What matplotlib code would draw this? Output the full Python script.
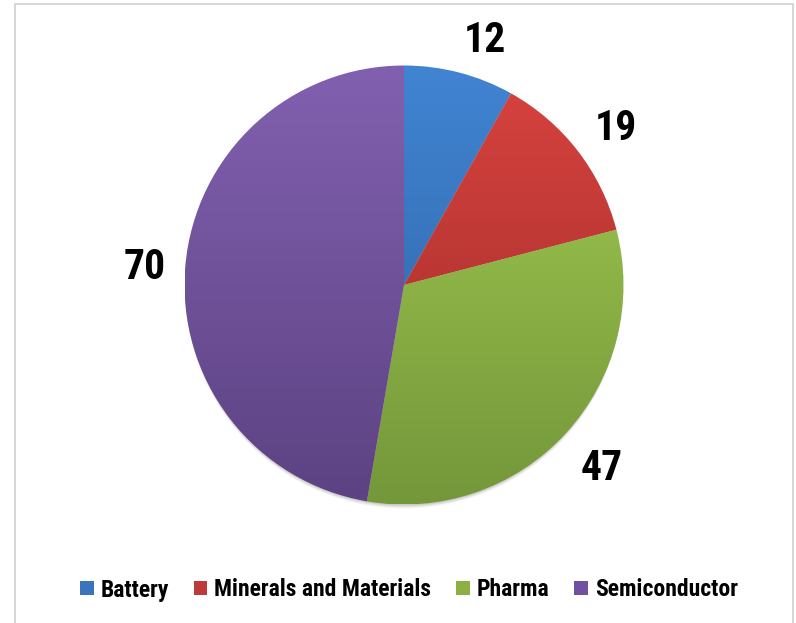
import numpy as np
import matplotlib
matplotlib.use("Agg")
import matplotlib.pyplot as plt
from matplotlib.patches import Rectangle, Circle, Patch
from matplotlib.colors import to_rgb
import matplotlib.transforms as mtransforms

categories = ["Battery", "Minerals and Materials", "Pharma", "Semiconductor"]
values = [12, 19, 47, 70]
top_colors = ["#4184d2", "#d8433f", "#a3cc52", "#8260b0"]
bottom_colors = ["#2c60a0", "#9c2b28", "#74973a", "#5c4282"]
legend_colors = ["#3a74bf", "#c0393a", "#8cb043", "#7050a0"]

W, H = 796, 623
fig = plt.figure(figsize=(W / 100, H / 100), dpi=100)
ax = fig.add_axes([0, 0, 1, 1])

fonts = ["Roboto Condensed", "Liberation Sans", "DejaVu Sans"]

# frame
fig.patches.append(Rectangle((15 / W, -0.05), (793 - 15) / W, (H - 4) / H + 0.05,
                             transform=fig.transFigure, fill=False,
                             edgecolor="#d0d0d0", lw=1.2))

cx, cy, R = 404, H - 285, 219.5

# soft shadow at the bottom
for i, a in enumerate([0.04, 0.05, 0.06, 0.07]):
    off = 5 - i
    ax.add_patch(Circle((cx, cy - off), R - 1, color="black", alpha=a, lw=0, zorder=0))

wedges, texts = ax.pie(values, labels=[str(v) for v in values], center=(cx, cy), radius=R,
                       startangle=90, counterclock=False, labeldistance=1.205,
                       textprops=dict(fontsize=30, fontweight="bold", family=fonts),
                       wedgeprops=dict(linewidth=0), frame=True)

t = np.linspace(0, 1, 256)[:, None]
for w, tc, bc in zip(wedges, top_colors, bottom_colors):
    tc, bc = np.array(to_rgb(tc)), np.array(to_rgb(bc))
    grad = tc[None, None, :] * (1 - t[:, :, None]) + bc[None, None, :] * t[:, :, None]
    grad = np.repeat(grad, 2, axis=1)
    w.set_facecolor("none")
    im = ax.imshow(grad, extent=(cx - R, cx + R, cy - R, cy + R), origin="upper",
                   aspect="auto", zorder=1, interpolation="bilinear")
    im.set_clip_path(w)
ax.set_xlim(0, W)
ax.set_ylim(0, H)
ax.axis("off")

offsets = [(14, -11), (3, -5), (3, -5), (4, -5)]
for tx, (dx, dy) in zip(texts, offsets):
    tx.set_ha("center")
    tx.set_va("center")
    tx.set_zorder(3)
    tx.set_transform(ax.transData + mtransforms.ScaledTranslation(dx / 100, dy / 100, fig.dpi_scale_trans))

handles = [Patch(facecolor=c, edgecolor="none") for c in legend_colors]
fig.legend(handles, categories, loc="center", bbox_to_anchor=(409 / W, 1 - 590 / H), ncol=4,
           frameon=False, prop=dict(size=17, weight="bold", family=fonts),
           handlelength=0.57, handleheight=0.57, handletextpad=0.3, columnspacing=1.05)

fig.savefig("out.png", dpi=100)
